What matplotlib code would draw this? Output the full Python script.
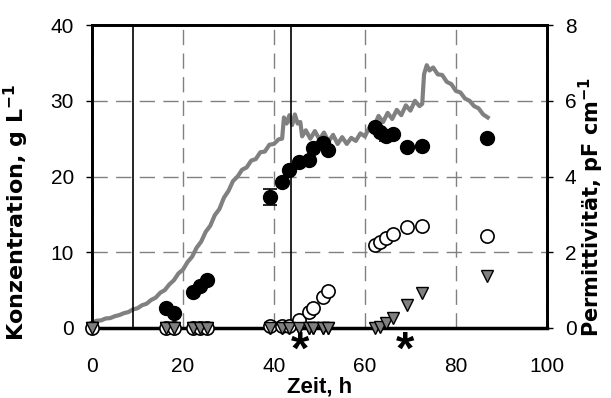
import matplotlib.pyplot as plt

# samples (h) and concentrations (g/L)
t_probe = [0, 16.3, 18.0, 22.2, 23.7, 25.2, 39.1, 41.8, 43.3, 45.6, 47.7, 48.6, 50.8, 51.9,
           62.2, 63.4, 64.7, 66.2, 69.3, 72.5, 86.8]
biomasse = [None, 2.6, 2.0, 4.8, 5.5, 6.3, 17.3, 19.3, 20.9, 21.9, 22.2, 23.8, 24.4, 23.5,
            26.5, 25.9, 25.3, 25.6, 23.9, 24.0, 25.1]
biomasse_err = [0, 0, 0, 0, 0, 0, 1.1, 0, 0, 0, 0, 0, 0, 0,
                0, 0, 0.6, 0, 0, 0, 0]
produkt = [0, 0, 0, 0, 0, 0, 0.2, 0.2, 0.3, 1.1, 2.1, 2.6, 4.1, 4.9,
           11.0, 11.4, 11.9, 12.4, 13.3, 13.5, 12.1]
nebenprodukt = [0, 0, 0, 0, 0, 0, 0, 0, 0, 0, 0, 0, 0, 0,
                0, 0.1, 0.6, 1.3, 3.0, 4.6, 6.8]

# online permittivity (pF/cm)
t_perm = [0, 1, 2, 3, 4, 5, 6, 7, 8, 9, 10, 11, 12, 13, 14, 15, 16, 17, 18, 19, 20,
          21, 22, 23, 24, 25, 26, 27, 28, 29, 30, 31, 32, 33, 34, 35, 36, 37, 38, 39, 40,
          41, 41.8, 42.2, 42.8, 43.4, 44, 44.6, 45.2, 45.8, 46.2, 47, 48, 49, 50, 51, 52,
          53, 54, 55, 56, 57, 58, 59, 60, 61, 62, 63, 64, 65, 66, 67, 68, 69, 70, 71, 72,
          72.6, 73.0, 73.6, 74.2, 75, 76, 77, 78, 79, 80, 81, 82, 83, 84, 85, 86, 87]
perm = [0.14, 0.19, 0.20, 0.25, 0.26, 0.31, 0.34, 0.39, 0.42, 0.49, 0.52, 0.60, 0.64, 0.74,
        0.80, 0.93, 1.00, 1.15, 1.26, 1.44, 1.54, 1.74, 1.88, 2.12, 2.28, 2.54, 2.70, 2.98,
        3.14, 3.44, 3.62, 3.88, 4.00, 4.18, 4.24, 4.42, 4.46, 4.64, 4.66, 4.84, 4.86,
        4.98, 5.00, 5.56, 5.40, 5.62, 5.36, 5.64, 5.40, 5.44, 5.06, 5.22, 5.00, 5.20, 4.98,
        5.16, 4.92, 5.10, 4.86, 5.04, 4.86, 5.02, 4.94, 5.14, 5.06, 5.30, 5.32, 5.60, 5.44,
        5.68, 5.52, 5.76, 5.62, 5.88, 5.74, 6.00, 5.86, 5.92, 6.70, 6.94, 6.80, 6.88, 6.70,
        6.68, 6.50, 6.44, 6.26, 6.22, 6.06, 6.00, 5.86, 5.80, 5.64, 5.56]

zugabe = [9.0, 43.7]
sterne = [45.7, 68.8]

plt.rcParams['font.family'] = ['Liberation Sans', 'DejaVu Sans']

fig, ax = plt.subplots(figsize=(6.11, 3.98), dpi=100)
fig.subplots_adjust(left=0.1506, right=0.895, bottom=0.176, top=0.937)
ax2 = ax.twinx()
ax.set_zorder(ax2.get_zorder() + 1)
ax.patch.set_visible(False)

ax2.plot(t_perm, perm, color='#808080', lw=3)
ax2.set_ylim(0, 8)
ax2.set_yticks([0, 2, 4, 6, 8])

for v in zugabe:
    ax.axvline(v, color='black', lw=1.2, zorder=1)

ax.plot(t_probe, nebenprodukt, 'v', ms=9, mfc='#808080', mec='black', mew=1,
        zorder=3, clip_on=False)
ax.plot(t_probe, produkt, 'o', ms=9.5, mfc='white', mec='black', mew=1.2,
        zorder=4, clip_on=False)
bx = [t for t, b in zip(t_probe, biomasse) if b is not None]
by = [b for b in biomasse if b is not None]
be = [e for e, b in zip(biomasse_err, biomasse) if b is not None]
ax.errorbar(bx, by, yerr=be, fmt='o', ms=10, mfc='black', mec='black',
            ecolor='black', elinewidth=1.2, capsize=5, capthick=1.2, zorder=5)
# triangles near zero sit on top of the open circles
ax.plot(t_probe[:14], nebenprodukt[:14], 'v', ms=9, mfc='#808080', mec='black', mew=1,
        zorder=6, clip_on=False)

ax.set_xlim(0, 100)
ax.set_ylim(0, 40)
ax.set_xticks([0, 20, 40, 60, 80, 100])
ax.set_yticks([0, 10, 20, 30, 40])
ax.grid(True, color='#808080', ls=(0, (11, 6)), lw=1)
ax.set_axisbelow(True)

for a in (ax, ax2):
    for s in a.spines.values():
        s.set_linewidth(2)
        s.set_color('black')
ax.spines['bottom'].set_linewidth(2.5)

ax.tick_params(axis='x', length=0, pad=21, labelsize=15)
ax.tick_params(axis='y', length=4, width=1, pad=9, labelsize=15)
ax2.tick_params(axis='y', length=4, width=1, pad=9, labelsize=15)

ax.set_xlabel('Zeit, h', fontsize=16, fontweight='bold', labelpad=0)
ax.xaxis.set_label_coords(0.5, -0.16)
ax.set_ylabel('Konzentration, g L$^{\\mathbf{-1}}$', fontsize=16, fontweight='bold',
              family='DejaVu Sans')
ax.yaxis.set_label_coords(-0.135, 0.38)
ax2.set_ylabel('Permittivität, pF cm$^{\\mathbf{-1}}$', fontsize=15, fontweight='bold',
               family='DejaVu Sans', rotation=90, va='center')
ax2.yaxis.set_label_coords(1.098, 0.40)

for s in sterne:
    ax.text(s, -3.2, '*', fontsize=34, fontweight='bold', ha='center', va='center',
            transform=ax.transData, clip_on=False)

fig.savefig('out.png', dpi=100)
